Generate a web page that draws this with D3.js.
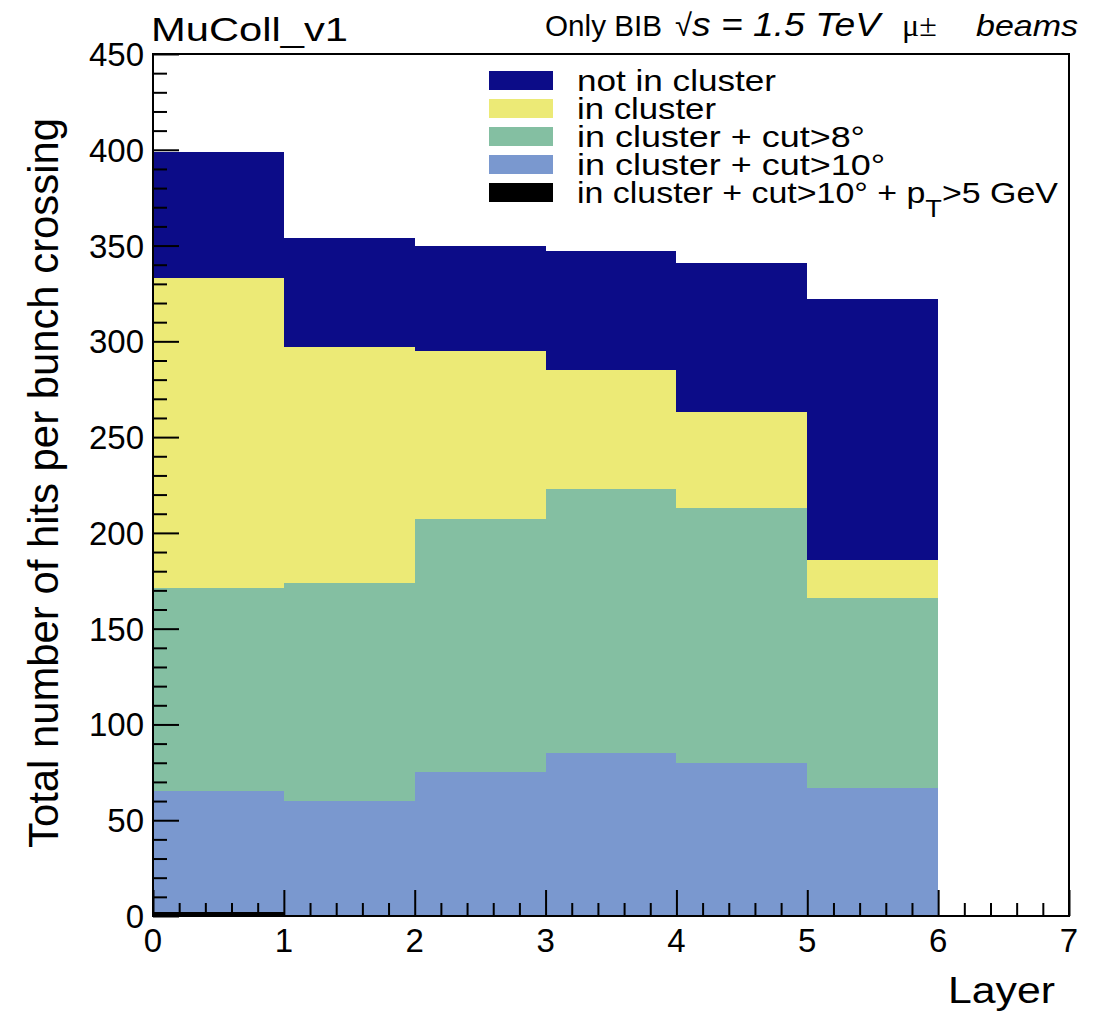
<!DOCTYPE html>
<html>
<head>
<meta charset="utf-8">
<script src="https://cdn.jsdelivr.net/npm/d3@7"></script>
<style>
  body { margin: 0; background: #fff; }
  svg { display: block; font-family: "Liberation Sans", Arial, sans-serif; }
</style>
</head>
<body>
<svg id="chart" width="1107" height="1014"></svg>
<script>
// bins are layers 0..5 (layer 6 bin empty)
var layers = [0, 1, 2, 3, 4, 5];
var notInCluster = [399, 354, 350, 347, 341, 322];
var inCluster = [333, 297, 295, 285, 263, 186];
var cut8 = [171, 174, 207, 223, 213, 166];
var cut10 = [65, 60, 75, 85, 80, 67];
var cut10pt = [2, 0, 0, 0, 0, 0];

var seriesNames = ['not in cluster', 'in cluster', 'in cluster + cut>8°', 'in cluster + cut>10°', 'in cluster + cut>10° + pT>5 GeV'];
var seriesColors = ['#0c0c88', '#ecea76', '#84bfa2', '#7a98cf', '#000000'];
var seriesValues = [notInCluster, inCluster, cut8, cut10, cut10pt];

var yTicks = [0, 50, 100, 150, 200, 250, 300, 350, 400, 450];
var xTicks = [0, 1, 2, 3, 4, 5, 6, 7];

// note: "top" is taken by window.top, so use pl/pr/pt/pb
var pl = 153, pr = 1069, pt = 54, pb = 916;

var x = d3.scaleLinear().domain([0, 7]).range([pl, pr]);
var y = d3.scaleLinear().domain([0, 450]).range([pb, pt]);

var svg = d3.select('#chart');

// histograms drawn over each other, largest first
var hist = svg.append('g').attr('id', 'hists');
seriesValues.forEach(function(vals, s) {
  hist.append('g')
    .selectAll('rect')
    .data(vals)
    .enter()
      .append('rect')
      .attr('x', function(d, i) { return x(layers[i]); })
      .attr('width', function(d, i) { return x(layers[i] + 1) - x(layers[i]); })
      .attr('y', function(d) { return y(d); })
      .attr('height', function(d) { return y(0) - y(d); })
      .attr('fill', seriesColors[s])
      .attr('shape-rendering', 'crispEdges');
});

// frame
svg.append('rect')
  .attr('x', pl).attr('y', pt)
  .attr('width', pr - pl).attr('height', pb - pt)
  .attr('fill', 'none').attr('stroke', '#000').attr('stroke-width', 2);

// axis ticks point inward
var yAxis = d3.axisRight(y)
  .tickValues(d3.range(0, 451, 10))
  .tickSize(0)
  .tickFormat('');
var yg = svg.append('g').attr('transform', 'translate(' + pl + ',0)').call(yAxis);
yg.select('.domain').remove();
yg.selectAll('.tick line')
  .attr('x2', function(d) { return d % 50 === 0 ? 26 : 14; })
  .attr('stroke', '#000').attr('stroke-width', 2);

var xAxis = d3.axisTop(x)
  .tickValues(d3.range(0, 7.01, 0.2))
  .tickSize(0)
  .tickFormat('');
var xg = svg.append('g').attr('transform', 'translate(0,' + pb + ')').call(xAxis);
xg.select('.domain').remove();
xg.selectAll('.tick line')
  .attr('y2', function(d) { return Math.abs(d - Math.round(d)) < 1e-6 ? -26 : -13; })
  .attr('stroke', '#000').attr('stroke-width', 2);

// tick labels
svg.append('g')
  .selectAll('text')
  .data(yTicks)
  .enter()
    .append('text')
    .attr('x', pl - 9)
    .attr('y', function(d) { return y(d) + 12; })
    .attr('text-anchor', 'end')
    .attr('font-size', 33)
    .text(function(d) { return d; });

svg.append('g')
  .selectAll('text')
  .data(xTicks)
  .enter()
    .append('text')
    .attr('x', function(d) { return x(d); })
    .attr('y', 952)
    .attr('text-anchor', 'middle')
    .attr('font-size', 33)
    .text(function(d) { return d; });

// axis titles
svg.append('text')
  .attr('transform', 'translate(58,' + ((pt + pb) / 2 - 2) + ') rotate(-90)')
  .attr('text-anchor', 'middle')
  .attr('font-size', 42)
  .attr('textLength', 730)
  .attr('lengthAdjust', 'spacingAndGlyphs')
  .text('Total number of hits per bunch crossing');

svg.append('text')
  .attr('x', 948).attr('y', 1003)
  .attr('font-size', 37)
  .attr('textLength', 107)
  .attr('lengthAdjust', 'spacingAndGlyphs')
  .text('Layer');

// header
svg.append('text')
  .attr('x', 151).attr('y', 41)
  .attr('font-size', 34)
  .attr('textLength', 197)
  .attr('lengthAdjust', 'spacingAndGlyphs')
  .text('MuColl_v1');

function hdrText(x0, str, size, style, fam) {
  var t = svg.append('text')
    .attr('x', x0).attr('y', 36)
    .attr('font-size', size)
    .text(str);
  if (style) t.attr('font-style', style);
  if (fam) t.attr('font-family', fam);
  return t;
}
hdrText(545, 'Only BIB', 29).attr('textLength', 117).attr('lengthAdjust', 'spacingAndGlyphs');
hdrText(675, '√', 31);
hdrText(692, 's = 1.5 TeV', 33, 'italic').attr('textLength', 188).attr('lengthAdjust', 'spacingAndGlyphs');
hdrText(902, 'μ±', 32, null, '"Liberation Serif", serif');
hdrText(976, 'beams', 30, 'italic').attr('textLength', 102).attr('lengthAdjust', 'spacingAndGlyphs');

// legend
var legend = svg.append('g').attr('id', 'legend');
var rowY = [81, 109, 137, 165, 193];
var rowW = [199, 139, 288, 308, 481];
seriesNames.forEach(function(name, i) {
  legend.append('rect')
    .attr('x', 489).attr('y', rowY[i] - 10)
    .attr('width', 64).attr('height', 19)
    .attr('fill', seriesColors[i]);
  var t = legend.append('text')
    .attr('x', 577).attr('y', rowY[i] + 10)
    .attr('font-size', 30)
    .attr('textLength', rowW[i])
    .attr('lengthAdjust', 'spacingAndGlyphs');
  if (i === 4) {
    t.append('tspan').text('in cluster + cut>10° + p');
    t.append('tspan').attr('dy', 14).attr('font-size', 24).text('T');
    t.append('tspan').attr('dy', -14).text('>5 GeV');
  } else {
    t.text(name);
  }
});
</script>
</body>
</html>
